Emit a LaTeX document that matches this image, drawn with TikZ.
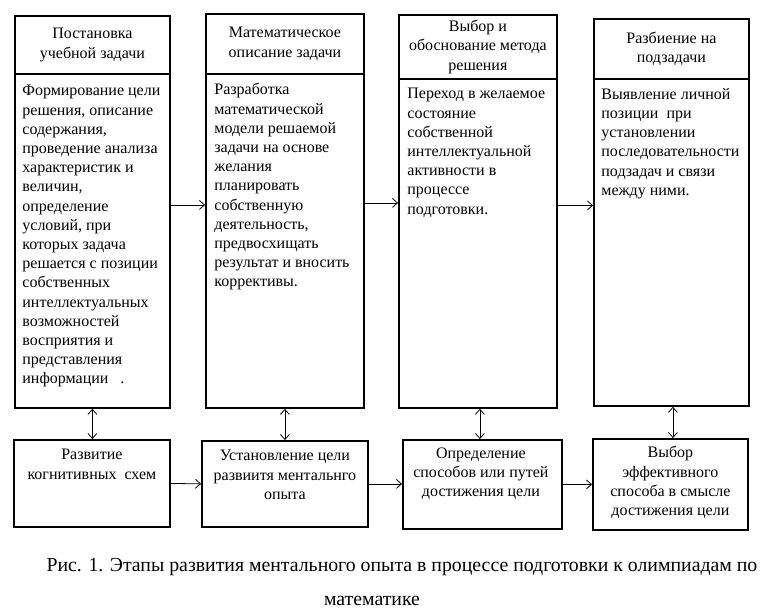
\documentclass[tikz,border=0pt]{standalone}
\usepackage{fontspec}
\setmainfont{Liberation Serif}
\usetikzlibrary{arrows.meta}

\begin{document}
\begin{tikzpicture}[x=1pt, y=-1pt, >={Straight Barb[length=5pt, width=9pt]}, line width=0.8pt,
  hbox/.style={draw, line width=1.8pt, anchor=north west, inner sep=0pt, align=center,
    font=\fontsize{16}{19.2}\selectfont},
  bbox/.style={draw, line width=1.8pt, anchor=north west, inner sep=0pt},
  btxt/.style={anchor=north west, inner sep=0pt, align=left,
    font=\fontsize{16}{19.2}\selectfont},
  stxt/.style={anchor=north, inner sep=0pt, align=center,
    font=\fontsize{16}{19.2}\selectfont},
  ctxt/.style={anchor=base, inner sep=0pt, font=\fontsize{19.8}{24}\selectfont}]
  \useasboundingbox (0,0) rectangle (783,614);
  % верхние блоки: заголовки
  \node[hbox, minimum width=155pt, minimum height=58pt] (h1) at (14,15) {Постановка\\учебной задачи};
  \node[hbox, minimum width=158pt, minimum height=60pt] (h2) at (205,13) {Математическое\\описание  задачи};
  \node[hbox, minimum width=158pt, minimum height=64pt] (h3) at (398,14) {Выбор и\\обоснование  метода\\решения};
  \node[hbox, minimum width=155pt, minimum height=60pt] (h4) at (593,18) {Разбиение на\\подзадачи};
  % верхние блоки: содержание
  \node[bbox, minimum width=155pt, minimum height=334pt] (b1) at (14,73) {};
  \node[bbox, minimum width=158pt, minimum height=334pt] (b2) at (205,73) {};
  \node[bbox, minimum width=158pt, minimum height=329pt] (b3) at (398,78) {};
  \node[bbox, minimum width=155pt, minimum height=327pt] (b4) at (593,78) {};
  \node[btxt] (t1) at ([shift={(8,12)}]b1.north west) {Формирование  цели\\решения,  описание\\содержания,\\проведение  анализа\\характеристик и\\величин,\\определение\\условий,  при\\которых  задача\\решается с позиции\\собственных\\интеллектуальных\\возможностей\\восприятия  и\\представления\\информации \ \ .};
  \node[btxt] (t2) at ([shift={(9,10)}]b2.north west) {Разработка\\математической\\модели решаемой\\задачи на основе\\желания\\планировать\\собственную\\деятельность,\\предвосхищать\\результат и вносить\\коррективы.};
  \node[btxt] (t3) at ([shift={(9,10)}]b3.north west) {Переход в желаемое\\состояние\\собственной\\интеллектуальной\\активности  в\\процессе\\подготовки.};
  \node[btxt] (t4) at ([shift={(8,10)}]b4.north west) {Выявление  личной\\позиции \ при\\установлении\\последовательности\\подзадач и  связи\\между ними.};
  % нижние блоки
  \node[bbox, minimum width=156pt, minimum height=87pt] (s1) at (13,439) {};
  \node[bbox, minimum width=166pt, minimum height=86pt] (s2) at (201,440) {};
  \node[bbox, minimum width=159pt, minimum height=89pt] (s3) at (402,439) {};
  \node[bbox, minimum width=155pt, minimum height=91pt] (s4) at (592,438) {};
  \node[stxt] (u1) at ([yshift=-10pt]s1.north) {Развитие\\когнитивных \ схем};
  \node[stxt] (u2) at ([yshift=-10pt]s2.north) {Установление цели\\развиитя ментальнго\\опыта};
  \node[stxt] (u3) at ([shift={(-1.5,8)}]s3.north) {Определение\\способов или путей\\достижения цели};
  \node[stxt] (u4) at ([yshift=-8pt]s4.north) {Выбор\\эффективного\\способа в смысле\\достижения цели};
  % стрелки между верхними блоками
  \draw[->] ([yshift=36pt]b1.east) -- ([yshift=36pt]b2.west);
  \draw[->] ([yshift=38pt]b2.east) -- ([yshift=40.5pt]b3.west);
  \draw[->] ([yshift=38pt]b3.east) -- ([yshift=37pt]b4.west);
  % стрелки между нижними блоками
  \draw[->] (s1.east) -- (s2.west);
  \draw[->] (s2.east) -- (s2.east -| s3.west);
  \draw[->] (s3.east) -- (s3.east -| s4.west);
  % двусторонние связи
  \draw[<->] (b1.south) -- (b1.south |- s1.north);
  \draw[<->] (b2.south) -- (s2.north);
  \draw[<->] ([xshift=2pt]b3.south) -- ([xshift=-2.5pt]s3.north);
  \draw[<->] ([xshift=1.5pt]b4.south) -- ([xshift=1.5pt]b4.south |- s4.north);
  % подпись
  \node[ctxt] (cap1) at (402,571) {Рис. 1. Этапы развития ментального опыта в процессе подготовки к олимпиадам по};
  \node[ctxt] (cap2) at (372,605) {математике};
\end{tikzpicture}
\end{document}
